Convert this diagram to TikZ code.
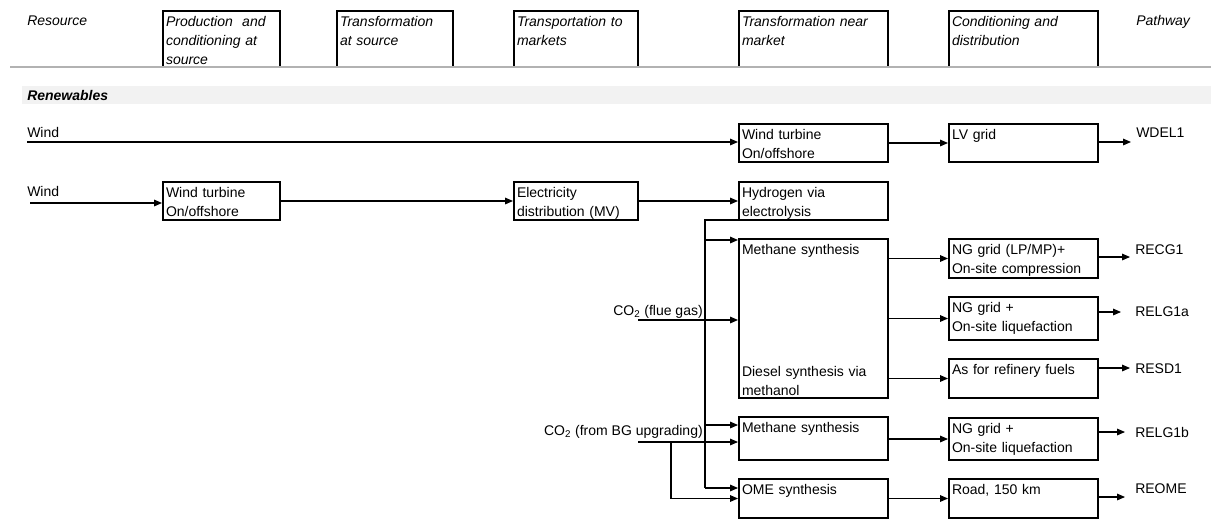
\documentclass[tikz,border=0pt]{standalone}
\usepackage{fontspec}
\setmainfont{Liberation Sans}
\usetikzlibrary{arrows.meta}

\begin{document}
\begin{tikzpicture}[x=0.75pt, y=-0.75pt,
  font=\fontsize{10.5}{14.25}\selectfont,
  stagebox/.style 2 args={draw, line width=1.5pt, anchor=north west,
    inner xsep=2.25pt, inner ysep=0pt, align=left,
    text width=#1, text height=11.25pt, text depth=#2},
  headbox/.style={stagebox={#1}{30.75pt}, font=\fontsize{10.5}{14.25}\selectfont\itshape},
  flow/.style={line width=0.8pt, -{Triangle[length=6pt, width=5pt]}},
  link/.style={line width=0.8pt},
  plain/.style={inner sep=0pt, anchor=base west}]
  \useasboundingbox (0,0) rectangle (1211,518);
  % header
  \node[plain] (hres) at (27,25) {\itshape Resource};
  \node[headbox=83.25pt] (hprod) at (162,10) {Production\ \ and\\conditioning at\\source};
  \node[headbox=82.5pt] (htrsrc) at (336,10) {Transformation\\at source};
  \node[headbox=88.5pt] (htrans) at (513,10) {Transportation to\\markets};
  \node[headbox=107.25pt] (htrmkt) at (738,10) {Transformation near\\market};
  \node[headbox=107.25pt] (hcond) at (948,10) {Conditioning and\\distribution};
  \node[plain] (hpath) at (1136,25) {\itshape Pathway};
  \draw[gray!60, line width=1pt] (10,67) -- (1211,67);
  \fill[gray!10] (22,86) rectangle (1211,104);
  \node[plain] (hren) at (27,100) {\bfseries\itshape Renewables};

  % row 1
  \node[plain] (wind1) at (27,137) {Wind};
  \node[stagebox={107.25pt}{17.25pt}] (wt1) at (738,123) {Wind turbine\\On/offshore};
  \node[stagebox={107.25pt}{17.25pt}] (lv) at (948,123) {LV grid};
  % row 2
  \node[plain] (wind2) at (27,196) {Wind};
  \node[stagebox={83.25pt}{17.25pt}] (wt2) at (162,181) {Wind turbine\\On/offshore};
  \node[stagebox={88.5pt}{17.25pt}] (elec) at (513,181) {Electricity\\distribution (MV)};
  \node[stagebox={107.25pt}{17.25pt}] (hyd) at (738,181) {Hydrogen via\\electrolysis};
  % synthesis near market
  \node[stagebox={107.25pt}{108pt}] (syn) at (738,238) {Methane synthesis\\[77.25pt]Diesel synthesis via\\methanol};
  \node[stagebox={107.25pt}{21pt}] (meth) at (738,416) {Methane synthesis};
  \node[stagebox={107.25pt}{18pt}] (ome) at (738,478) {OME synthesis};
  \node[plain, anchor=base east] (co2fg) at (703,315) {CO\textsubscript{2} (flue gas)};
  \node[plain, anchor=base east] (co2bg) at (703,435) {CO\textsubscript{2} (from BG upgrading)};
  % conditioning and distribution
  \node[stagebox={107.25pt}{18pt}] (ngc) at (948,238) {NG grid (LP/MP)+\\On-site compression};
  \node[stagebox={107.25pt}{21pt}] (ngl1) at (948,296) {NG grid +\\On-site liquefaction};
  \node[stagebox={107.25pt}{18pt}] (refy) at (948,358) {As for refinery fuels};
  \node[stagebox={107.25pt}{20.25pt}] (ngl2) at (948,417) {NG grid +\\On-site liquefaction};
  \node[stagebox={107.25pt}{18pt}] (road) at (948,478) {Road, 150 km};
  % pathways
  \node[plain] (wdel) at (1136,137) {WDEL1};
  \node[plain] (recg) at (1135,254) {RECG1};
  \node[plain] (relga) at (1135,316) {RELG1a};
  \node[plain] (resd) at (1135,373) {RESD1};
  \node[plain] (relgb) at (1135,437) {RELG1b};
  \node[plain] (reome) at (1135,493) {REOME};

  \coordinate (w1) at (27,142);
  \coordinate (w2) at (30,203);
  \coordinate (bus) at (705,220);
  \coordinate (t1) at (705,240);
  \coordinate (t2) at (705,425);
  \coordinate (t3) at (705,488);
  \coordinate (fg) at (638,320);
  \coordinate (bg) at (638,442);
  \coordinate (bgdn) at (671,442);
  \coordinate (p1) at (1131,142);
  \coordinate (p2) at (1130,257);
  \coordinate (p3) at (1121,312);
  \coordinate (p4) at (1130,368);
  \coordinate (p5) at (1125,432);
  \coordinate (p6) at (1125,497);

  % connectors
  \draw[flow] (w1) -- (w1 -| wt1.west);
  \draw[flow] (wt1) -- (lv);
  \draw[flow] (w2) -- (w2 -| wt2.west);
  \draw[flow] (wt2) -- (elec);
  \draw[flow] (elec) -- (hyd);
  \draw[link] (hyd.south west |- bus) -- (bus) -- (t3);
  \draw[flow] (t1) -- (t1 -| syn.west);
  \draw[flow] (t2) -- (t2 -| meth.west);
  \draw[flow] (t3) -- (t3 -| ome.west);
  \draw[flow] (fg) -- (fg -| syn.west);
  \draw[flow] (bg) -- (bg -| meth.west);
  \draw[flow] (bgdn) |- (ome.west);
  \draw[flow] (syn.east |- ngc) -- (ngc);
  \draw[flow] (syn.east |- ngl1) -- (ngl1);
  \draw[flow] (syn.east |- refy) -- (refy);
  \draw[flow] (meth.east |- ngl2) -- (ngl2);
  \draw[flow] (ome) -- (road);
  \draw[flow] (lv.east |- p1) -- (p1);
  \draw[flow] (ngc.east |- p2) -- (p2);
  \draw[flow] (ngl1.east |- p3) -- (p3);
  \draw[flow] (refy.east |- p4) -- (p4);
  \draw[flow] (ngl2.east |- p5) -- (p5);
  \draw[flow] (road.east |- p6) -- (p6);
\end{tikzpicture}
\end{document}
